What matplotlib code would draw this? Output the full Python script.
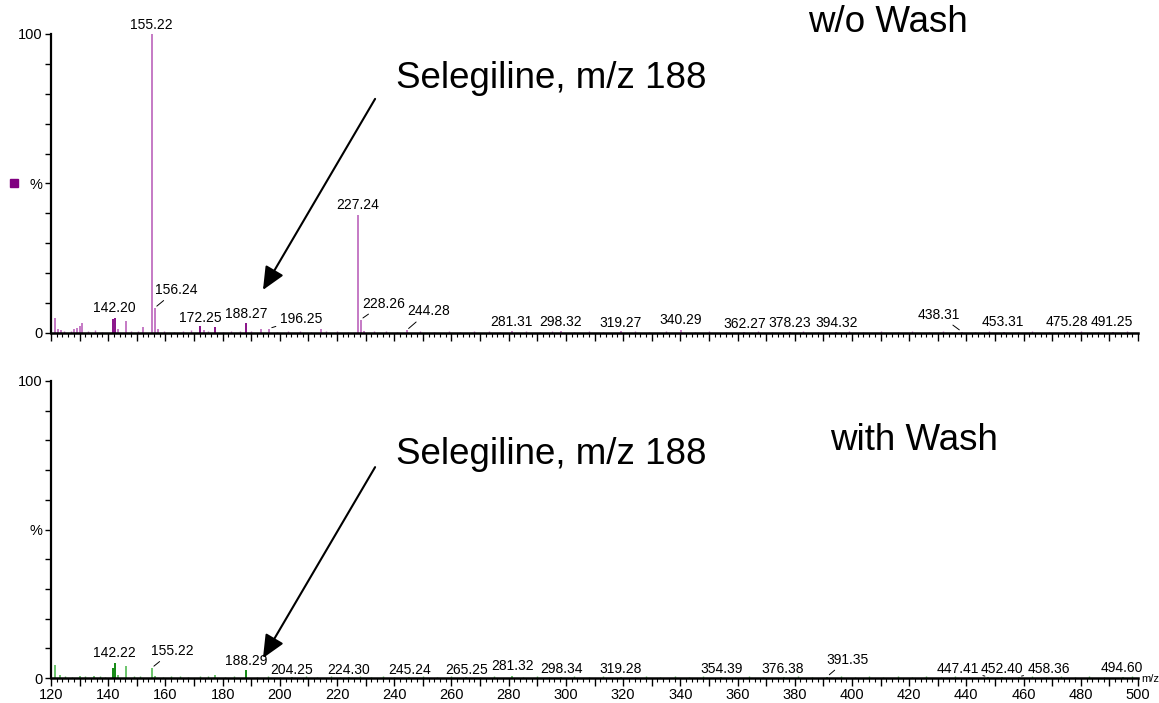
import matplotlib
matplotlib.use("Agg")
from matplotlib import pyplot as plt
import numpy as np

plt.rcParams['font.family'] = ['Liberation Sans', 'DejaVu Sans']

# ---- top spectrum (w/o wash) ----
top_mz = [121.4, 122.5, 123.5, 128.0, 129.0, 130.0, 131.0, 141.8, 142.2, 143.4,
          146.2, 152.0, 155.22, 156.24, 157.5, 172.25, 173.5, 177.3, 188.27,
          193.4, 196.25, 214.4, 227.24, 228.26, 229.3, 244.28, 281.31, 298.32,
          319.27, 340.29, 362.27, 378.23, 394.32, 438.31, 453.31, 475.28, 491.25]
top_int = [5.0, 1.5, 1.0, 1.5, 1.8, 2.2, 3.3, 4.7, 4.9, 1.2,
           3.9, 2.0, 100.0, 8.4, 1.2, 2.3, 1.0, 2.0, 3.3,
           1.2, 1.5, 1.2, 39.5, 4.5, 0.8, 0.9, 0.6, 0.6,
           0.6, 0.9, 0.5, 0.5, 0.5, 0.5, 0.4, 0.4, 0.4]
top_dark = [141.8, 142.2, 188.27, 172.25, 177.3]
top_noise_mz = [124.5, 127, 133, 135.5, 138, 148, 150.5, 159.5, 163, 166, 169, 175,
                180, 183, 186, 190, 199, 203, 207, 211, 216, 220, 224, 233, 237, 241,
                249, 254, 259, 263, 268, 273, 277, 286, 291, 295, 303, 308, 313, 324,
                329, 335, 345, 350, 356, 367, 372, 383, 388, 399, 404, 410, 416, 421,
                427, 432, 443, 448, 458, 463, 469, 480, 486, 496]
top_noise_int = [0.8, 0.6, 0.7, 0.9, 0.5, 0.7, 0.8, 0.6, 0.5, 0.7, 0.9, 0.6,
                 0.5, 0.8, 0.6, 0.7, 0.5, 0.6, 0.8, 0.5, 0.6, 0.7, 0.5, 0.6, 0.8, 0.5,
                 0.6, 0.5, 0.7, 0.5, 0.6, 0.8, 0.5, 0.6, 0.5, 0.7, 0.5, 0.6, 0.5, 0.7,
                 0.5, 0.6, 0.5, 0.7, 0.5, 0.6, 0.5, 0.6, 0.5, 0.6, 0.5, 0.7, 0.5, 0.6,
                 0.5, 0.6, 0.5, 0.6, 0.5, 0.6, 0.5, 0.6, 0.5, 0.6]
top_labels = ['155.22', '142.20', '156.24', '172.25', '188.27', '196.25', '227.24',
              '228.26', '244.28', '281.31', '298.32', '319.27', '340.29', '362.27',
              '378.23', '394.32', '438.31', '453.31', '475.28', '491.25']
top_label_mz = [155.22, 142.2, 156.24, 172.25, 188.27, 196.25, 227.24,
                228.26, 244.28, 281.31, 298.32, 319.27, 340.29, 362.27,
                378.23, 394.32, 438.31, 453.31, 475.28, 491.25]

# ---- bottom spectrum (with wash) ----
bot_mz = [121.4, 123.0, 130.0, 135.0, 141.5, 142.22, 143.3, 146.2, 155.22, 156.5,
          177.5, 188.29, 204.25, 224.30, 245.24, 265.25, 281.32, 298.34, 319.28,
          354.39, 376.38, 391.35, 447.41, 452.40, 458.36, 494.60]
bot_int = [4.5, 1.0, 0.8, 0.8, 3.4, 5.0, 1.0, 3.9, 3.4, 0.8,
           1.0, 2.6, 0.5, 0.5, 0.5, 0.5, 0.6, 0.5, 0.5,
           0.5, 0.5, 0.5, 0.4, 0.4, 0.4, 0.4]
bot_dark = [141.5, 142.22, 188.29]
bot_noise_mz = [125, 127.5, 132, 137, 139, 149, 151, 159, 162, 165, 168, 172, 175,
                181, 184, 192, 196, 200, 209, 213, 218, 221, 228, 232, 236, 240, 250,
                255, 260, 270, 275, 285, 290, 294, 303, 308, 313, 324, 328, 333, 338,
                343, 348, 359, 364, 369, 381, 386, 396, 401, 406, 411, 416, 421, 426,
                431, 436, 441, 463, 468, 473, 478, 483, 488, 498]
bot_noise_int = [0.7, 0.5, 0.6, 0.8, 0.5, 0.7, 0.6, 0.5, 0.7, 0.6, 0.5, 0.7, 0.6,
                 0.5, 0.6, 0.5, 0.7, 0.5, 0.6, 0.5, 0.7, 0.5, 0.6, 0.5, 0.6, 0.5, 0.6,
                 0.5, 0.7, 0.5, 0.6, 0.5, 0.6, 0.5, 0.6, 0.5, 0.6, 0.5, 0.6, 0.5, 0.6,
                 0.5, 0.6, 0.5, 0.6, 0.5, 0.6, 0.5, 0.6, 0.5, 0.6, 0.5, 0.6, 0.5, 0.6,
                 0.5, 0.6, 0.5, 0.6, 0.5, 0.6, 0.5, 0.6, 0.5, 0.6]
bot_labels = ['142.22', '155.22', '188.29', '204.25', '224.30', '245.24', '265.25',
              '281.32', '298.34', '319.28', '354.39', '376.38', '391.35', '447.41',
              '452.40', '458.36', '494.60']
bot_label_mz = [142.22, 155.22, 188.29, 204.25, 224.30, 245.24, 265.25,
                281.32, 298.34, 319.28, 354.39, 376.38, 391.35, 447.41,
                452.40, 458.36, 494.60]

# label offsets (pixels from peak tip to text centre), leader line if flagged
top_off = {'155.22': (0, 9), '142.20': (0, 10), '156.24': (22, 18, True),
           '172.25': (0, 8), '188.27': (0, 9), '196.25': (32, 10, True),
           '227.24': (0, 10), '228.26': (23, 16, True), '244.28': (22, 19, True),
           '281.31': (-1, 9), '298.32': (-1, 9), '319.27': (0, 8), '340.29': (0, 10),
           '362.27': (1, 8), '378.23': (0, 9), '394.32': (1, 9),
           '438.31': (-23, 17, True), '453.31': (-2, 10), '475.28': (0, 10),
           '491.25': (-1, 10)}
bot_off = {'142.22': (0, 10), '155.22': (21, 17, True), '188.29': (0, 9),
           '204.25': (0, 7), '224.30': (-1, 7), '245.24': (0, 7), '265.25': (0, 7),
           '281.32': (0, 10), '298.34': (0, 8), '319.28': (0, 8), '354.39': (0, 8),
           '376.38': (-2, 8), '391.35': (20, 17, True), '447.41': (-30, 8, True),
           '452.40': (0, 8), '458.36': (30, 8, True), '494.60': (-1, 9)}

W, H = 1159, 703
fig = plt.figure(figsize=(W / 100, H / 100), dpi=100)
ax1 = fig.add_axes([51 / W, 1 - 333 / H, 1087 / W, 299 / H])
ax2 = fig.add_axes([51 / W, 1 - 678 / H, 1087 / W, 297 / H])


def draw(ax, mz, inten, dark, nmz, nint, labels, lmz, offs, light, deep, show_x):
    ax.vlines(nmz, 0, nint, color=light, lw=1.0)
    cols = [deep if m in dark else light for m in mz]
    ax.vlines(mz, 0, inten, colors=cols, lw=1.3)
    lookup = dict(zip(mz, inten))
    for lab, m in zip(labels, lmz):
        o = offs[lab]
        h = lookup.get(m, 0.5)
        ap = None
        if len(o) > 2:
            ap = dict(arrowstyle='-', lw=0.7, color='k', shrinkA=1, shrinkB=2)
        ax.annotate(lab, xy=(m, h), xytext=(o[0], o[1]), textcoords='offset pixels',
                    ha='center', va='center', fontsize=10, annotation_clip=False,
                    arrowprops=ap)
    ax.set_xlim(120, 500)
    ax.set_ylim(0, 100)
    for s in ['top', 'right']:
        ax.spines[s].set_visible(False)
    ax.spines['left'].set_linewidth(1.6)
    ax.spines['bottom'].set_linewidth(1.8)
    ax.set_yticks([0, 50, 100])
    ax.set_yticklabels(['0', '%', '100'])
    ax.set_yticks(np.arange(0, 101, 10), minor=True)
    ax.set_xticks(np.arange(120, 501, 10))
    ax.set_xticks(np.arange(120, 501, 2), minor=True)
    if show_x:
        ax.set_xticklabels([str(v) if v % 20 == 0 else '' for v in range(120, 501, 10)])
    else:
        ax.set_xticklabels([])
    ax.tick_params(axis='y', which='both', length=4, width=1, direction='out',
                   labelsize=10.5, pad=2)
    ax.tick_params(axis='x', which='major', length=6, width=1, labelsize=10.5, pad=1)
    ax.tick_params(axis='x', which='minor', length=3, width=0.8)


draw(ax1, top_mz, top_int, top_dark, top_noise_mz, top_noise_int, top_labels,
     top_label_mz, top_off, '#c070c0', '#800080', False)
draw(ax2, bot_mz, bot_int, bot_dark, bot_noise_mz, bot_noise_int, bot_labels,
     bot_label_mz, bot_off, '#60c060', '#008000', True)

ax1.plot(-0.034, 0.5, 's', color='#800080', ms=6, transform=ax1.transAxes, clip_on=False)
fig.text(1141 / W, 1 - 679 / H, 'm/z', fontsize=8, ha='left', va='center')

# arrows and callouts
arrow = dict(arrowstyle='-|>,head_length=1.0,head_width=0.45', lw=1.5, color='k',
             mutation_scale=14, shrinkA=0, shrinkB=0)
ax1.annotate('', xy=(194.1, 14.4), xytext=(233.3, 78.3), arrowprops=arrow,
             annotation_clip=False)
ax2.annotate('', xy=(194.1, 6.7), xytext=(233.3, 71.0), arrowprops=arrow,
             annotation_clip=False)

fig.text(396 / W, 1 - 78 / H, 'Selegiline, m/z 188', fontsize=26.5, va='center')
fig.text(396 / W, 1 - 454 / H, 'Selegiline, m/z 188', fontsize=26.5, va='center')
fig.text(808 / W, 1 - 22 / H, 'w/o Wash', fontsize=26.5, va='center')
fig.text(830 / W, 1 - 440 / H, 'with Wash', fontsize=26.5, va='center')

fig.savefig('out.png', dpi=100)
